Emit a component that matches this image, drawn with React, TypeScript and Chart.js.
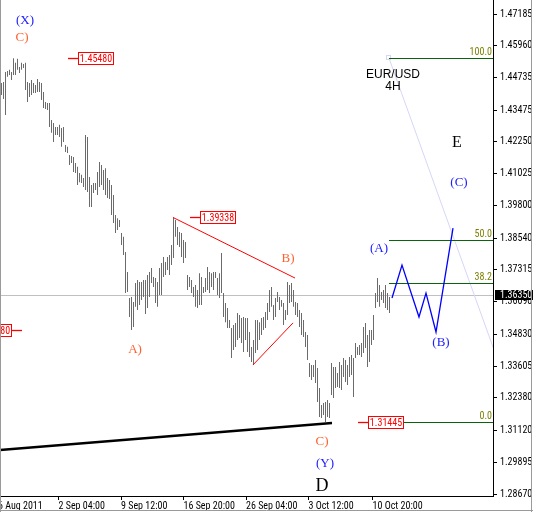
import React, { useEffect, useRef } from 'react';
import { Chart, registerables } from 'chart.js';

Chart.register(...registerables);

// ---- EUR/USD 4H bars (high / low) ----
const barHigh = [
  1.4452, 1.4456, 1.4495, 1.4499, 1.4503, 1.4495, 1.4548, 1.4530, 1.4546, 1.4514,
  1.4530, 1.4526, 1.4530, 1.4456, 1.4452, 1.4464, 1.4452, 1.4445, 1.4468, 1.4456,
  1.4452, 1.4418, 1.4379, 1.4375, 1.4375, 1.4310, 1.4298, 1.4283, 1.4283, 1.4291,
  1.4279, 1.4283, 1.4213, 1.4206, 1.4175, 1.4171, 1.4167, 1.4144, 1.4129, 1.4105,
  1.4098, 1.4086, 1.4252, 1.4244, 1.4090, 1.4059, 1.4067, 1.4067, 1.4109, 1.4148,
  1.4136, 1.4117, 1.4124, 1.4086, 1.4078, 1.4059, 1.4020, 1.3943, 1.3931, 1.3924,
  1.3874, 1.3859, 1.3801, 1.3723, 1.3623, 1.3627, 1.3608, 1.3681, 1.3693, 1.3685,
  1.3685, 1.3693, 1.3693, 1.3712, 1.3723, 1.3739, 1.3704, 1.3700, 1.3685, 1.3739,
  1.3758, 1.3781, 1.3762, 1.3781, 1.3789, 1.3828, 1.3934, 1.3924, 1.3897, 1.3878,
  1.3874, 1.3847, 1.3839, 1.3712, 1.3704, 1.3693, 1.3666, 1.3673, 1.3654, 1.3719,
  1.3704, 1.3666, 1.3700, 1.3743, 1.3723, 1.3719, 1.3723, 1.3723, 1.3700, 1.3719,
  1.3797, 1.3642, 1.3604, 1.3585, 1.3538, 1.3507, 1.3519, 1.3527, 1.3565, 1.3558,
  1.3546, 1.3550, 1.3546, 1.3546, 1.3492, 1.3434, 1.3461, 1.3538, 1.3538, 1.3530,
  1.3546, 1.3550, 1.3569, 1.3604, 1.3654, 1.3666, 1.3596, 1.3623, 1.3646, 1.3627,
  1.3615, 1.3604, 1.3577, 1.3685, 1.3673, 1.3681, 1.3654, 1.3608, 1.3604, 1.3577,
  1.3565, 1.3538, 1.3492, 1.3480, 1.3372, 1.3365, 1.3365, 1.3384, 1.3353, 1.3276,
  1.3210, 1.3218, 1.3222, 1.3230, 1.3218, 1.3372, 1.3357, 1.3357, 1.3334, 1.3376,
  1.3365, 1.3392, 1.3384, 1.3365, 1.3396, 1.3403, 1.3392, 1.3450, 1.3434, 1.3442,
  1.3450, 1.3511, 1.3527, 1.3480, 1.3500, 1.3500, 1.3558, 1.3642, 1.3700, 1.3673,
  1.3646, 1.3654, 1.3673, 1.3642, 1.3627,
];
const barLow = [
  1.4406, 1.4391, 1.4329, 1.4476, 1.4483, 1.4464, 1.4483, 1.4483, 1.4503, 1.4491,
  1.4503, 1.4510, 1.4425, 1.4379, 1.4398, 1.4406, 1.4414, 1.4414, 1.4418, 1.4418,
  1.4387, 1.4356, 1.4352, 1.4348, 1.4283, 1.4260, 1.4225, 1.4252, 1.4252, 1.4244,
  1.4206, 1.4225, 1.4186, 1.4182, 1.4136, 1.4144, 1.4109, 1.4105, 1.4059, 1.4070,
  1.4067, 1.4051, 1.4040, 1.4032, 1.3974, 1.3974, 1.4028, 1.4040, 1.4020, 1.4051,
  1.4059, 1.4040, 1.4020, 1.4009, 1.4005, 1.3943, 1.3912, 1.3874, 1.3885, 1.3897,
  1.3828, 1.3789, 1.3642, 1.3646, 1.3550, 1.3500, 1.3511, 1.3589, 1.3577, 1.3596,
  1.3615, 1.3627, 1.3561, 1.3585, 1.3627, 1.3681, 1.3666, 1.3604, 1.3589, 1.3635,
  1.3635, 1.3704, 1.3712, 1.3731, 1.3712, 1.3750, 1.3777, 1.3859, 1.3828, 1.3820,
  1.3781, 1.3758, 1.3777, 1.3654, 1.3666, 1.3642, 1.3627, 1.3589, 1.3585, 1.3596,
  1.3596, 1.3642, 1.3646, 1.3654, 1.3642, 1.3666, 1.3654, 1.3700, 1.3635, 1.3623,
  1.3642, 1.3550, 1.3530, 1.3507, 1.3507, 1.3392, 1.3423, 1.3434, 1.3461, 1.3469,
  1.3450, 1.3415, 1.3461, 1.3415, 1.3396, 1.3376, 1.3365, 1.3411, 1.3423, 1.3461,
  1.3480, 1.3500, 1.3507, 1.3538, 1.3569, 1.3589, 1.3538, 1.3550, 1.3608, 1.3577,
  1.3589, 1.3519, 1.3538, 1.3558, 1.3604, 1.3608, 1.3589, 1.3558, 1.3550, 1.3511,
  1.3480, 1.3473, 1.3434, 1.3384, 1.3318, 1.3307, 1.3318, 1.3295, 1.3222, 1.3164,
  1.3160, 1.3172, 1.3145, 1.3164, 1.3160, 1.3249, 1.3237, 1.3276, 1.3280, 1.3276,
  1.3268, 1.3318, 1.3299, 1.3288, 1.3318, 1.3326, 1.3241, 1.3392, 1.3403, 1.3403,
  1.3396, 1.3411, 1.3430, 1.3357, 1.3376, 1.3442, 1.3461, 1.3585, 1.3608, 1.3589,
  1.3615, 1.3604, 1.3585, 1.3577, 1.3565,
];

// ---- axes ----
const yTickValues = [
  1.47185, 1.4596, 1.44735, 1.43475, 1.4225, 1.41025, 1.398, 1.3854,
  1.37315, 1.3609, 1.3483, 1.33605, 1.3238, 1.3112, 1.29895, 1.2867,
];
const yMin = 1.28594;
const yMax = 1.47725;
const xMin = -0.75;
const xMax = 245.75;
const xTickBars = [-4.25, 28.5, 59.75, 91, 122.25, 153.5, 185.5];
const xTickLabels = ['26 Aug 2011', '2 Sep 04:00', '9 Sep 12:00', '16 Sep 20:00', '26 Sep 04:00', '3 Oct 12:00', '10 Oct 20:00'];

// ---- current price ----
const currentPrice = 1.3635;
const currentPriceText = '1.36350';

// ---- price marker labels ----
const markerText = ['1.45480', '1.39338', '1.31445', '1.34980'];
const markerPrice = [1.4548, 1.39338, 1.31445, 1.3498];
const markerBar = [33.25, 94.25, 178.25, 10.25];
const markerSide = ['right', 'right', 'right', 'left'];

// ---- fibonacci ----
const fibStartBar = 193.75;
const fibEndBar = 259.25;
const fibHigh = 1.4548;
const fibLow = 1.31445;
const fibLevels = [0, 38.2, 50, 100];

// ---- trend lines [bar1, price1, bar2, price2] ----
const redLineA = [85.75, 1.39338, 146.75, 1.37];
const redLineB = [125.75, 1.3365, 145.75, 1.3527];
const blackLine = [-0.75, 1.30368, 165.25, 1.3141];

// ---- projected zigzag ----
const zigBars = [195.25, 200.25, 208.75, 212.25, 217.25, 225.75];
const zigPrices = [1.3623, 1.375, 1.355, 1.3642, 1.3492, 1.3893];

// ---- wave labels ----
const waveText = ['(X)', 'C)', 'A)', 'B)', 'C)', '(Y)', 'D', '(A)', '(B)', '(C)', 'E'];
const waveBar = [11.75, 10.25, 66.75, 143.25, 160.25, 161.75, 160.25, 188.75, 219.75, 228.75, 227.75];
const wavePrice = [1.4692, 1.4626, 1.3426, 1.3774, 1.3068, 1.2983, 1.2898, 1.3812, 1.345, 1.407, 1.4221];
const waveKind = ['blue', 'orange', 'orange', 'orange', 'orange', 'blue', 'black', 'blue', 'blue', 'blue', 'black'];

const symbolText = ['EUR/USD', '4H'];
const symbolBar = 195.75;
const symbolPrice = [1.4483, 1.4437];

function textWidth(font: string, s: string): number {
  const c = document.createElement('canvas').getContext('2d');
  if (!c) return 0;
  c.font = font;
  return c.measureText(s).width;
}

function pickUiFont(): { family: string; size: number } {
  const rc = textWidth('10px "Roboto Condensed", monospace', '1.47185');
  const rc2 = textWidth('10px "Roboto Condensed", serif', '1.47185');
  const r = textWidth('10px Roboto, monospace', '1.47185');
  if (rc === rc2 && rc > 28 && rc < 35.5 && rc < r * 0.95) {
    return { family: '"Roboto Condensed", sans-serif', size: 10 };
  }
  return { family: '"DejaVu Sans Condensed", "Liberation Sans", sans-serif', size: 9 };
}

export default function App() {
  const ref = useRef<HTMLCanvasElement>(null);

  useEffect(() => {
    document.body.style.margin = '0';
    const canvas = ref.current;
    if (!canvas) return;
    const ui = pickUiFont();
    const uiFamily = ui.family;
    const uiSize = ui.size;
    const uiFont = `${uiSize}px ${uiFamily}`;
    const serif = '"Liberation Serif", "Times New Roman", serif';

    const colors: Record<string, string> = { blue: '#2020ff', orange: '#ff6230', black: '#000000' };

    const overlay = {
      id: 'overlay',
      beforeDatasetsDraw(chart: any) {
        const { ctx, chartArea: a, scales } = chart;
        const yy = Math.round(scales.y.getPixelForValue(currentPrice)) + 0.5;
        ctx.save();
        ctx.strokeStyle = '#c0c0c0';
        ctx.lineWidth = 1;
        ctx.beginPath();
        ctx.moveTo(a.left, yy);
        ctx.lineTo(a.right, yy);
        ctx.stroke();
        ctx.restore();
      },
      afterDatasetsDraw(chart: any) {
        const { ctx, chartArea: a, scales } = chart;
        const X = (v: number) => scales.x.getPixelForValue(v);
        const Y = (p: number) => scales.y.getPixelForValue(p);
        const seg = (l: number[]) => {
          ctx.beginPath();
          ctx.moveTo(X(l[0]), Y(l[1]));
          ctx.lineTo(X(l[2]), Y(l[3]));
          ctx.stroke();
        };
        ctx.save();
        ctx.beginPath();
        ctx.rect(a.left, a.top, a.right - a.left, a.bottom - a.top);
        ctx.clip();

        // fibonacci diagonal + anchor
        ctx.strokeStyle = '#d6d6f6';
        ctx.lineWidth = 1;
        seg([fibStartBar, fibHigh, fibEndBar, fibLow]);
        ctx.strokeRect(Math.round(X(fibStartBar)) - 2.5, Math.round(Y(fibHigh)) - 2.5, 4, 4);

        // fib levels
        ctx.font = uiFont;
        ctx.textAlign = 'right';
        ctx.textBaseline = 'bottom';
        fibLevels.forEach((lv) => {
          const p = fibLow + ((fibHigh - fibLow) * lv) / 100;
          const yy = Math.round(Y(p)) + 0.5;
          ctx.strokeStyle = '#0b640b';
          ctx.beginPath();
          ctx.moveTo(X(fibStartBar), yy);
          ctx.lineTo(a.right, yy);
          ctx.stroke();
          ctx.fillStyle = '#7d8000';
          ctx.fillText(lv.toFixed(1), a.right - 1, yy - 1);
        });

        // red trend lines
        ctx.strokeStyle = '#ff0000';
        ctx.lineWidth = 1;
        seg(redLineA);
        seg(redLineB);

        // black support line
        ctx.strokeStyle = '#000000';
        ctx.lineWidth = 2.5;
        seg(blackLine);

        // blue projection
        ctx.strokeStyle = '#0000ff';
        ctx.lineWidth = 1.3;
        ctx.beginPath();
        zigBars.forEach((b, i) => {
          const xx = X(b);
          const yy = Y(zigPrices[i]);
          if (i === 0) ctx.moveTo(xx, yy);
          else ctx.lineTo(xx, yy);
        });
        ctx.stroke();
        ctx.restore();

        // price markers
        ctx.save();
        ctx.font = uiFont;
        ctx.textBaseline = 'middle';
        ctx.textAlign = 'center';
        markerText.forEach((t, i) => {
          const yy = Math.round(Y(markerPrice[i])) + 0.5;
          const x0 = Math.round(X(markerBar[i]));
          const w = Math.ceil(ctx.measureText(t).width) + 3;
          const dir = markerSide[i] === 'right' ? 1 : -1;
          const x1 = x0 + dir * 10;
          ctx.strokeStyle = '#ff0000';
          ctx.lineWidth = 1.3;
          ctx.beginPath();
          ctx.moveTo(x0, yy);
          ctx.lineTo(x1, yy);
          ctx.stroke();
          const bx = dir === 1 ? x1 : x1 - w;
          ctx.fillStyle = '#ffffff';
          ctx.fillRect(bx, yy - 6, w, 12);
          ctx.lineWidth = 1;
          ctx.strokeRect(bx + 0.5, yy - 6, w - 1, 12);
          ctx.fillStyle = '#ff0000';
          ctx.fillText(t, bx + w / 2, yy + 0.5);
        });

        // wave labels
        waveText.forEach((t, i) => {
          const size = t === 'D' ? 18 : t === 'E' ? 16 : 13;
          ctx.font = `${size}px ${serif}`;
          ctx.fillStyle = colors[waveKind[i]];
          ctx.fillText(t, X(waveBar[i]), Y(wavePrice[i]));
        });

        // symbol
        ctx.font = '12px "Liberation Sans", Arial, sans-serif';
        ctx.fillStyle = '#000000';
        symbolText.forEach((t, i) => {
          ctx.fillText(t, X(symbolBar), Y(symbolPrice[i]));
        });
        ctx.restore();
      },
      afterDraw(chart: any) {
        const { ctx, chartArea: a, scales, width, height } = chart;
        const yy = Math.round(scales.y.getPixelForValue(currentPrice));
        ctx.save();
        ctx.fillStyle = '#000000';
        ctx.fillRect(a.right + 2, yy - 5, width - a.right - 2, 10);
        ctx.fillStyle = '#ffffff';
        ctx.font = uiFont;
        ctx.textAlign = 'left';
        ctx.textBaseline = 'middle';
        ctx.fillText(currentPriceText, a.right + 7, yy + 0.5);
        // frame
        ctx.strokeStyle = '#9a9a9a';
        ctx.lineWidth = 1;
        ctx.beginPath();
        ctx.moveTo(0.5, 0);
        ctx.lineTo(0.5, height);
        ctx.moveTo(width - 1.5, 0);
        ctx.lineTo(width - 1.5, height);
        ctx.moveTo(0, height - 1.5);
        ctx.lineTo(width, height - 1.5);
        ctx.stroke();
        ctx.restore();
      },
    };

    const chart = new Chart(canvas, {
      type: 'bar',
      data: {
        datasets: [
          {
            data: barHigh.map((h, i) => ({ x: i, y: [barLow[i], h] })) as any,
            backgroundColor: '#6b6b6b',
            borderWidth: 0,
            barThickness: 1,
            inflateAmount: 0,
            grouped: false,
          } as any,
        ],
      },
      options: {
        animation: false,
        responsive: false,
        maintainAspectRatio: false,
        devicePixelRatio: 1,
        layout: { padding: 0 },
        events: [],
        plugins: { legend: { display: false }, tooltip: { enabled: false } },
        scales: {
          x: {
            type: 'linear',
            min: xMin,
            max: xMax,
            offset: false,
            grid: { display: true, drawOnChartArea: false, drawTicks: true, tickLength: 4, color: '#000000', offset: false },
            border: { display: true, color: '#000000', width: 1 },
            ticks: {
              autoSkip: false,
              maxRotation: 0,
              minRotation: 0,
              align: 'start',
              padding: 0,
              color: '#000000',
              font: { family: uiFamily, size: uiSize },
              callback: (_v: any, i: number) => xTickLabels[i] ?? '',
            },
            afterBuildTicks: (s: any) => {
              s.ticks = xTickBars.map((v) => ({ value: v }));
            },
            afterFit: (s: any) => {
              s.height = 16;
              s.paddingLeft = 0;
              s.paddingRight = 0;
            },
          },
          y: {
            type: 'linear',
            position: 'right',
            min: yMin,
            max: yMax,
            grid: { display: true, drawOnChartArea: false, drawTicks: true, tickLength: 4, color: '#000000' },
            border: { display: true, color: '#000000', width: 1 },
            ticks: {
              autoSkip: false,
              padding: 3,
              color: '#000000',
              font: { family: uiFamily, size: uiSize },
              callback: (v: any) => Number(v).toFixed(5),
            },
            afterBuildTicks: (s: any) => {
              s.ticks = yTickValues.map((v) => ({ value: v }));
            },
            afterFit: (s: any) => {
              s.width = 40;
              s.paddingTop = 0;
              s.paddingBottom = 0;
            },
          },
        },
      } as any,
      plugins: [overlay],
    });
    return () => chart.destroy();
  }, []);

  return (
    <div style={{ width: 533, height: 512 }}>
      <canvas ref={ref} width={533} height={512} style={{ display: 'block', width: 533, height: 512 }} />
    </div>
  );
}
